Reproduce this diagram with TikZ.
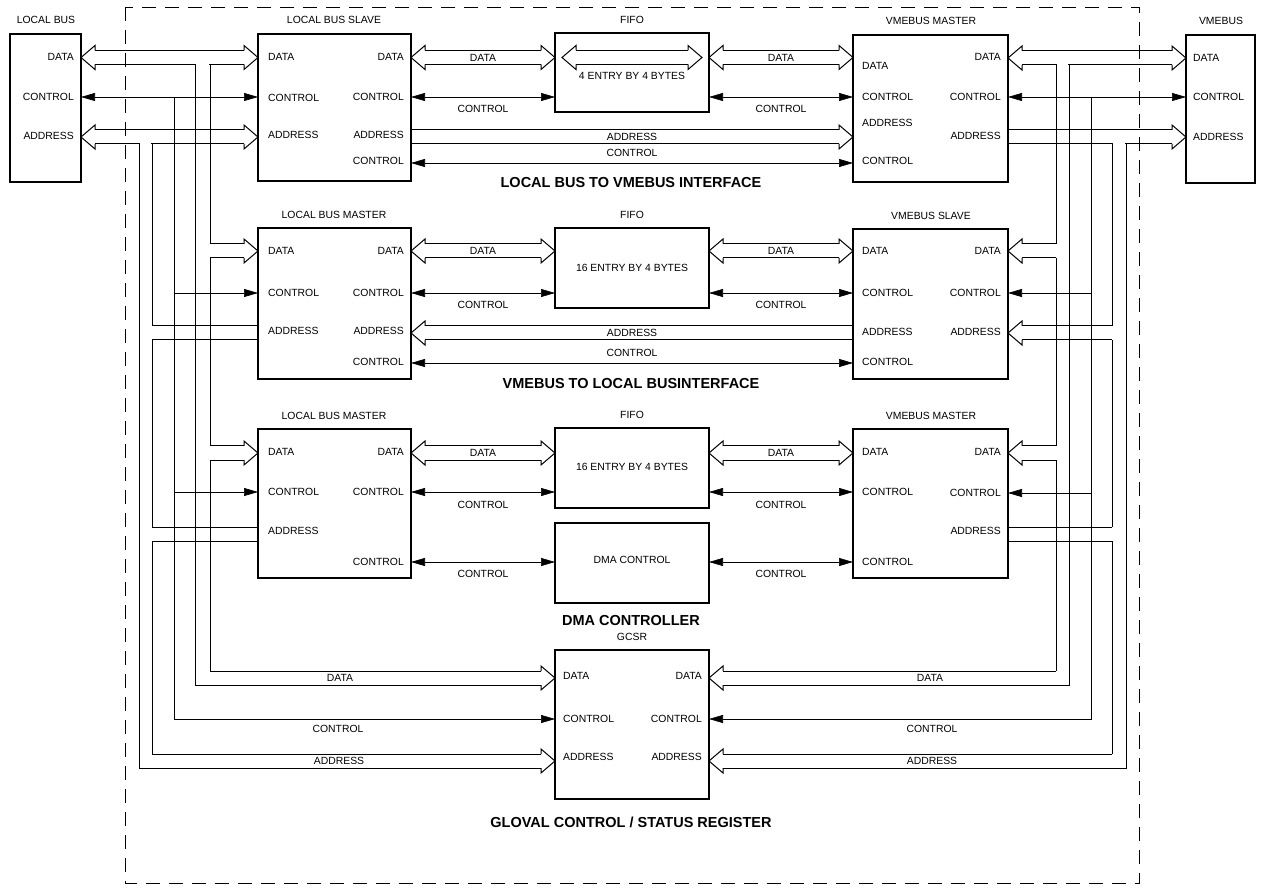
\documentclass[tikz,border=0pt]{standalone}
\usepackage{fontspec}
\setmainfont{Liberation Sans}
\usetikzlibrary{arrows.meta,calc}

% hollow (wide) bus arrow between two points on one horizontal line
% #1 / #2 : h = arrow head at the left / right end, n = plain end
% #3 / #4 : left and right end points (centre line of the bus)
\newcommand\hbus[4]{%
  \ifx h#1\def\hbl{14pt}\else\def\hbl{0pt}\fi
  \ifx h#2\def\hbr{14pt}\else\def\hbr{0pt}\fi
  \draw[bus] let \p1=#3, \p2=#4 in
    (\x1+\hbl,\y1+7pt) -- (\x2-\hbr,\y2+7pt)
    (\x1+\hbl,\y1-7pt) -- (\x2-\hbr,\y2-7pt);
  \ifx h#1\draw[bus] let \p1=#3 in (\x1+14pt,\y1+7pt) -- (\x1+14pt,\y1+12pt)
      -- (\x1,\y1) -- (\x1+14pt,\y1-12pt) -- (\x1+14pt,\y1-7pt);\fi
  \ifx h#2\draw[bus] let \p2=#4 in (\x2-14pt,\y2+7pt) -- (\x2-14pt,\y2+12pt)
      -- (\x2,\y2) -- (\x2-14pt,\y2-12pt) -- (\x2-14pt,\y2-7pt);\fi
}
% port and caption texts
\newcommand\PortW[4]{\node[lbl,anchor=west] (#1) at (#2,#3) {#4};}
\newcommand\PortE[4]{\node[lbl,anchor=east] (#1) at (#2,#3) {#4};}
\newcommand\TextC[4]{\node[lbl] (#1) at (#2,#3) {#4};}

\begin{document}
\begin{tikzpicture}[x=1pt,y=-1pt,
  >={Triangle[length=14pt,width=8pt]},
  box/.style={draw,line width=1.6pt,inner sep=0pt,outer sep=0pt,anchor=north west},
  bus/.style={line width=1pt,line join=miter},
  ctrl/.style={line width=0.6pt},
  lbl/.style={inner sep=0pt,font=\fontsize{10.4}{12}\selectfont},
  ttl/.style={inner sep=0pt,font=\fontsize{14.5}{17}\selectfont\bfseries},
  gapw/.style={white,line width=2.6pt}]

\useasboundingbox (0,0) rectangle (1264,890);

% chip boundary
\draw[dash pattern=on 14pt off 9pt, line width=0.6pt] (125,7) rectangle (1139,883);

% ---------------- blocks ----------------
\node[box,minimum width=71pt,minimum height=148pt]  (lb)    at (10,34)   {};
\node[box,minimum width=69pt,minimum height=148pt]  (vme)   at (1186,35) {};

\node[box,minimum width=153pt,minimum height=147pt] (lbs)   at (258,34)  {};
\node[box,minimum width=154pt,minimum height=79pt]  (fifoA) at (555,33)  {};
\node[box,minimum width=155pt,minimum height=147pt] (vmA)   at (853,35)  {};

\node[box,minimum width=153pt,minimum height=151pt] (lbm2)  at (258,228) {};
\node[box,minimum width=154pt,minimum height=80pt]  (fifoB) at (555,228) {};
\node[box,minimum width=155pt,minimum height=150pt] (vs2)   at (853,229) {};

\node[box,minimum width=153pt,minimum height=149pt] (lbm3)  at (258,429) {};
\node[box,minimum width=154pt,minimum height=80pt]  (fifoC) at (555,428) {};
\node[box,minimum width=154pt,minimum height=80pt]  (dma)   at (555,523) {};
\node[box,minimum width=155pt,minimum height=149pt] (vm3)   at (853,429) {};

\node[box,minimum width=154pt,minimum height=149pt] (gcsr)  at (555,650) {};

% ---------------- block titles ----------------
\TextC{hlb}{46}{20}{LOCAL BUS}
\TextC{hvme}{1221}{21}{VMEBUS}
\TextC{hlbs}{334}{20}{LOCAL BUS SLAVE}
\TextC{hfa}{632}{20}{FIFO}
\TextC{hvma}{931}{21}{VMEBUS MASTER}
\TextC{hlbm2}{334}{215}{LOCAL BUS MASTER}
\TextC{hfb}{632}{215}{FIFO}
\TextC{hvs2}{931}{216}{VMEBUS SLAVE}
\TextC{hlbm3}{334}{416}{LOCAL BUS MASTER}
\TextC{hfc}{632}{415}{FIFO}
\TextC{hvm3}{931}{416}{VMEBUS MASTER}
\TextC{hgcsr}{632}{637}{GCSR}

\node[ttl] (t1) at (631,183) {LOCAL BUS TO VMEBUS INTERFACE};
\node[ttl] (t2) at (631,384) {VMEBUS TO LOCAL BUSINTERFACE};
\node[ttl] (t3) at (631,621) {DMA CONTROLLER};
\node[ttl] (t4) at (631,822) {GLOVAL CONTROL / STATUS REGISTER};

% ---------------- ports ----------------
\PortE{lb1}{74}{57}{DATA}
\PortE{lb2}{74}{97}{CONTROL}
\PortE{lb3}{74}{136}{ADDRESS}
\PortW{vme1}{1193}{58}{DATA}
\PortW{vme2}{1193}{97}{CONTROL}
\PortW{vme3}{1193}{137}{ADDRESS}

\PortW{lbsW1}{268}{57}{DATA}
\PortW{lbsW2}{268}{98}{CONTROL}
\PortW{lbsW3}{268}{135}{ADDRESS}
\PortE{lbsE1}{404}{57}{DATA}
\PortE{lbsE2}{404}{97}{CONTROL}
\PortE{lbsE3}{404}{135}{ADDRESS}
\PortE{lbsE4}{404}{161}{CONTROL}

\PortW{vmaW1}{862}{66}{DATA}
\PortW{vmaW2}{862}{97}{CONTROL}
\PortW{vmaW3}{862}{123}{ADDRESS}
\PortW{vmaW4}{862}{161}{CONTROL}
\PortE{vmaE1}{1001}{57}{DATA}
\PortE{vmaE2}{1001}{97}{CONTROL}
\PortE{vmaE3}{1001}{136}{ADDRESS}

\PortW{lbm2W1}{268}{251}{DATA}
\PortW{lbm2W2}{268}{293}{CONTROL}
\PortW{lbm2W3}{268}{331}{ADDRESS}
\PortE{lbm2E1}{404}{251}{DATA}
\PortE{lbm2E2}{404}{293}{CONTROL}
\PortE{lbm2E3}{404}{331}{ADDRESS}
\PortE{lbm2E4}{404}{362}{CONTROL}

\PortW{vs2W1}{862}{251}{DATA}
\PortW{vs2W2}{862}{293}{CONTROL}
\PortW{vs2W3}{862}{332}{ADDRESS}
\PortW{vs2W4}{862}{362}{CONTROL}
\PortE{vs2E1}{1001}{251}{DATA}
\PortE{vs2E2}{1001}{293}{CONTROL}
\PortE{vs2E3}{1001}{332}{ADDRESS}

\PortW{lbm3W1}{268}{452}{DATA}
\PortW{lbm3W2}{268}{492}{CONTROL}
\PortW{lbm3W3}{268}{531}{ADDRESS}
\PortE{lbm3E1}{404}{452}{DATA}
\PortE{lbm3E2}{404}{492}{CONTROL}
\PortE{lbm3E4}{404}{562}{CONTROL}

\PortW{vm3W1}{862}{452}{DATA}
\PortW{vm3W2}{862}{492}{CONTROL}
\PortW{vm3W4}{862}{562}{CONTROL}
\PortE{vm3E1}{1001}{452}{DATA}
\PortE{vm3E2}{1001}{493}{CONTROL}
\PortE{vm3E3}{1001}{531}{ADDRESS}

\PortW{gcW1}{563}{676}{DATA}
\PortW{gcW2}{563}{719}{CONTROL}
\PortW{gcW3}{563}{757}{ADDRESS}
\PortE{gcE1}{702}{676}{DATA}
\PortE{gcE2}{702}{719}{CONTROL}
\PortE{gcE3}{702}{757}{ADDRESS}

\TextC{fa}{632}{76}{4 ENTRY BY 4 BYTES}
\TextC{fb}{632}{268}{16 ENTRY BY 4 BYTES}
\TextC{fc}{632}{467}{16 ENTRY BY 4 BYTES}
\TextC{dm}{632}{560}{DMA CONTROL}

% ---------------- local bus side ----------------
\hbus{h}{h}{(lb.east |- 0,57.5)}{(lbs.west |- 0,57.5)}
\draw[gapw] (195.6,64.5) -- (209.4,64.5);
\draw[ctrl,<->] (lb.east |- 0,97) -- (lbs.west |- 0,97);
\hbus{h}{h}{(lb.east |- 0,137)}{(lbs.west |- 0,137)}
\draw[gapw] (139.6,144) -- (151.4,144);

% data rails
\draw[bus] (195,64.5) -- (195,685) -- (210,685);
\draw[bus] (210,64.5) -- (210,244) (210,258) -- (210,446) (210,460) -- (210,671);
\hbus{n}{h}{(210,251)}{(lbm2.west |- 0,251)}
\hbus{n}{h}{(210,453)}{(lbm3.west |- 0,453)}
\hbus{n}{h}{(210,678)}{(gcsr.west |- 0,678)}
% control rail
\draw[ctrl,->] (174,97) -- (174,719) -- (gcsr.west |- 0,719);
\draw[ctrl,->] (174,293) -- (lbm2.west |- 0,293);
\draw[ctrl,->] (174,492) -- (lbm3.west |- 0,492);
% address rails
\draw[bus] (139,144) -- (139,768) -- (152,768);
\draw[bus] (152,144) -- (152,326) (152,340) -- (152,527) (152,541) -- (152,754);
\hbus{n}{n}{(152,333)}{(lbm2.west |- 0,333)}
\hbus{n}{n}{(152,534)}{(lbm3.west |- 0,534)}
\hbus{n}{h}{(152,761)}{(gcsr.west |- 0,761)}

% ---------------- VMEbus side ----------------
\hbus{h}{h}{(vmA.east |- 0,58)}{(vme.west |- 0,58)}
\draw[gapw] (1056.6,65) -- (1068.4,65);
\draw[ctrl,<->] (vmA.east |- 0,97) -- (vme.west |- 0,97);
\hbus{n}{h}{(vmA.east |- 0,137)}{(vme.west |- 0,137)}
\draw[gapw] (1112.6,144) -- (1125.4,144);

% data rails
\draw[bus] (1069,65) -- (1069,685) -- (1056,685);
\draw[bus] (1056,65) -- (1056,244) (1056,258) -- (1056,446) (1056,460) -- (1056,671);
\hbus{h}{n}{(vs2.east |- 0,251)}{(1056,251)}
\hbus{h}{n}{(vm3.east |- 0,453)}{(1056,453)}
\hbus{h}{n}{(gcsr.east |- 0,678)}{(1056,678)}
% control rail
\draw[ctrl,->] (1091,97) -- (1091,719) -- (gcsr.east |- 0,719);
\draw[ctrl,->] (1091,293) -- (vs2.east |- 0,293);
\draw[ctrl,->] (1091,493) -- (vm3.east |- 0,493);
% address rails
\draw[bus] (1126,144) -- (1126,768) -- (1112,768);
\draw[bus] (1112,144) -- (1112,326) (1112,340) -- (1112,527) (1112,541) -- (1112,754);
\hbus{h}{n}{(vs2.east |- 0,333)}{(1112,333)}
\hbus{n}{n}{(vm3.east |- 0,534)}{(1112,534)}
\hbus{h}{n}{(gcsr.east |- 0,761)}{(1112,761)}

% ---------------- local bus to VMEbus interface ----------------
\hbus{h}{h}{(lbs.east |- 0,57.5)}{(fifoA.west |- 0,57.5)}
\hbus{h}{h}{(fifoA.east |- 0,57.5)}{(vmA.west |- 0,57.5)}
\hbus{h}{h}{(562,57.5)}{(702,57.5)}
\draw[ctrl,<->] (lbs.east |- 0,97) -- (fifoA.west |- 0,97);
\draw[ctrl,<->] (fifoA.east |- 0,97) -- (vmA.west |- 0,97);
\hbus{n}{h}{(lbs.east |- 0,137)}{(vmA.west |- 0,137)}
\draw[ctrl,<->] (lbs.east |- 0,163) -- (vmA.west |- 0,163);
\TextC{a1}{483}{57.5}{DATA}
\TextC{a2}{781}{57.5}{DATA}
\TextC{a3}{483}{109}{CONTROL}
\TextC{a4}{781}{109}{CONTROL}
\TextC{a5}{632}{137}{ADDRESS}
\TextC{a6}{632}{153}{CONTROL}

% ---------------- VMEbus to local bus interface ----------------
\hbus{h}{h}{(lbm2.east |- 0,251)}{(fifoB.west |- 0,251)}
\hbus{h}{h}{(fifoB.east |- 0,251)}{(vs2.west |- 0,251)}
\draw[ctrl,<->] (lbm2.east |- 0,293) -- (fifoB.west |- 0,293);
\draw[ctrl,<->] (fifoB.east |- 0,293) -- (vs2.west |- 0,293);
\hbus{h}{n}{(lbm2.east |- 0,333)}{(vs2.west |- 0,333)}
\draw[ctrl,<->] (lbm2.east |- 0,363) -- (vs2.west |- 0,363);
\TextC{b1}{483}{251}{DATA}
\TextC{b2}{781}{251}{DATA}
\TextC{b3}{483}{305}{CONTROL}
\TextC{b4}{781}{305}{CONTROL}
\TextC{b5}{632}{333}{ADDRESS}
\TextC{b6}{632}{353}{CONTROL}

% ---------------- DMA controller ----------------
\hbus{h}{h}{(lbm3.east |- 0,453)}{(fifoC.west |- 0,453)}
\hbus{h}{h}{(fifoC.east |- 0,453)}{(vm3.west |- 0,453)}
\draw[ctrl,<->] (lbm3.east |- 0,492) -- (fifoC.west |- 0,492);
\draw[ctrl,<->] (fifoC.east |- 0,492) -- (vm3.west |- 0,492);
\draw[ctrl,<->] (lbm3.east |- 0,562) -- (dma.west |- 0,562);
\draw[ctrl,<->] (dma.east |- 0,562) -- (vm3.west |- 0,562);
\TextC{c1}{483}{453}{DATA}
\TextC{c2}{781}{453}{DATA}
\TextC{c3}{483}{505}{CONTROL}
\TextC{c4}{781}{505}{CONTROL}
\TextC{c5}{483}{574}{CONTROL}
\TextC{c6}{781}{574}{CONTROL}

% ---------------- GCSR bus captions ----------------
\TextC{g1}{340}{678}{DATA}
\TextC{g2}{338}{729}{CONTROL}
\TextC{g3}{339}{761}{ADDRESS}
\TextC{g4}{930}{678}{DATA}
\TextC{g5}{932}{729}{CONTROL}
\TextC{g6}{932}{761}{ADDRESS}

\end{tikzpicture}
\end{document}
